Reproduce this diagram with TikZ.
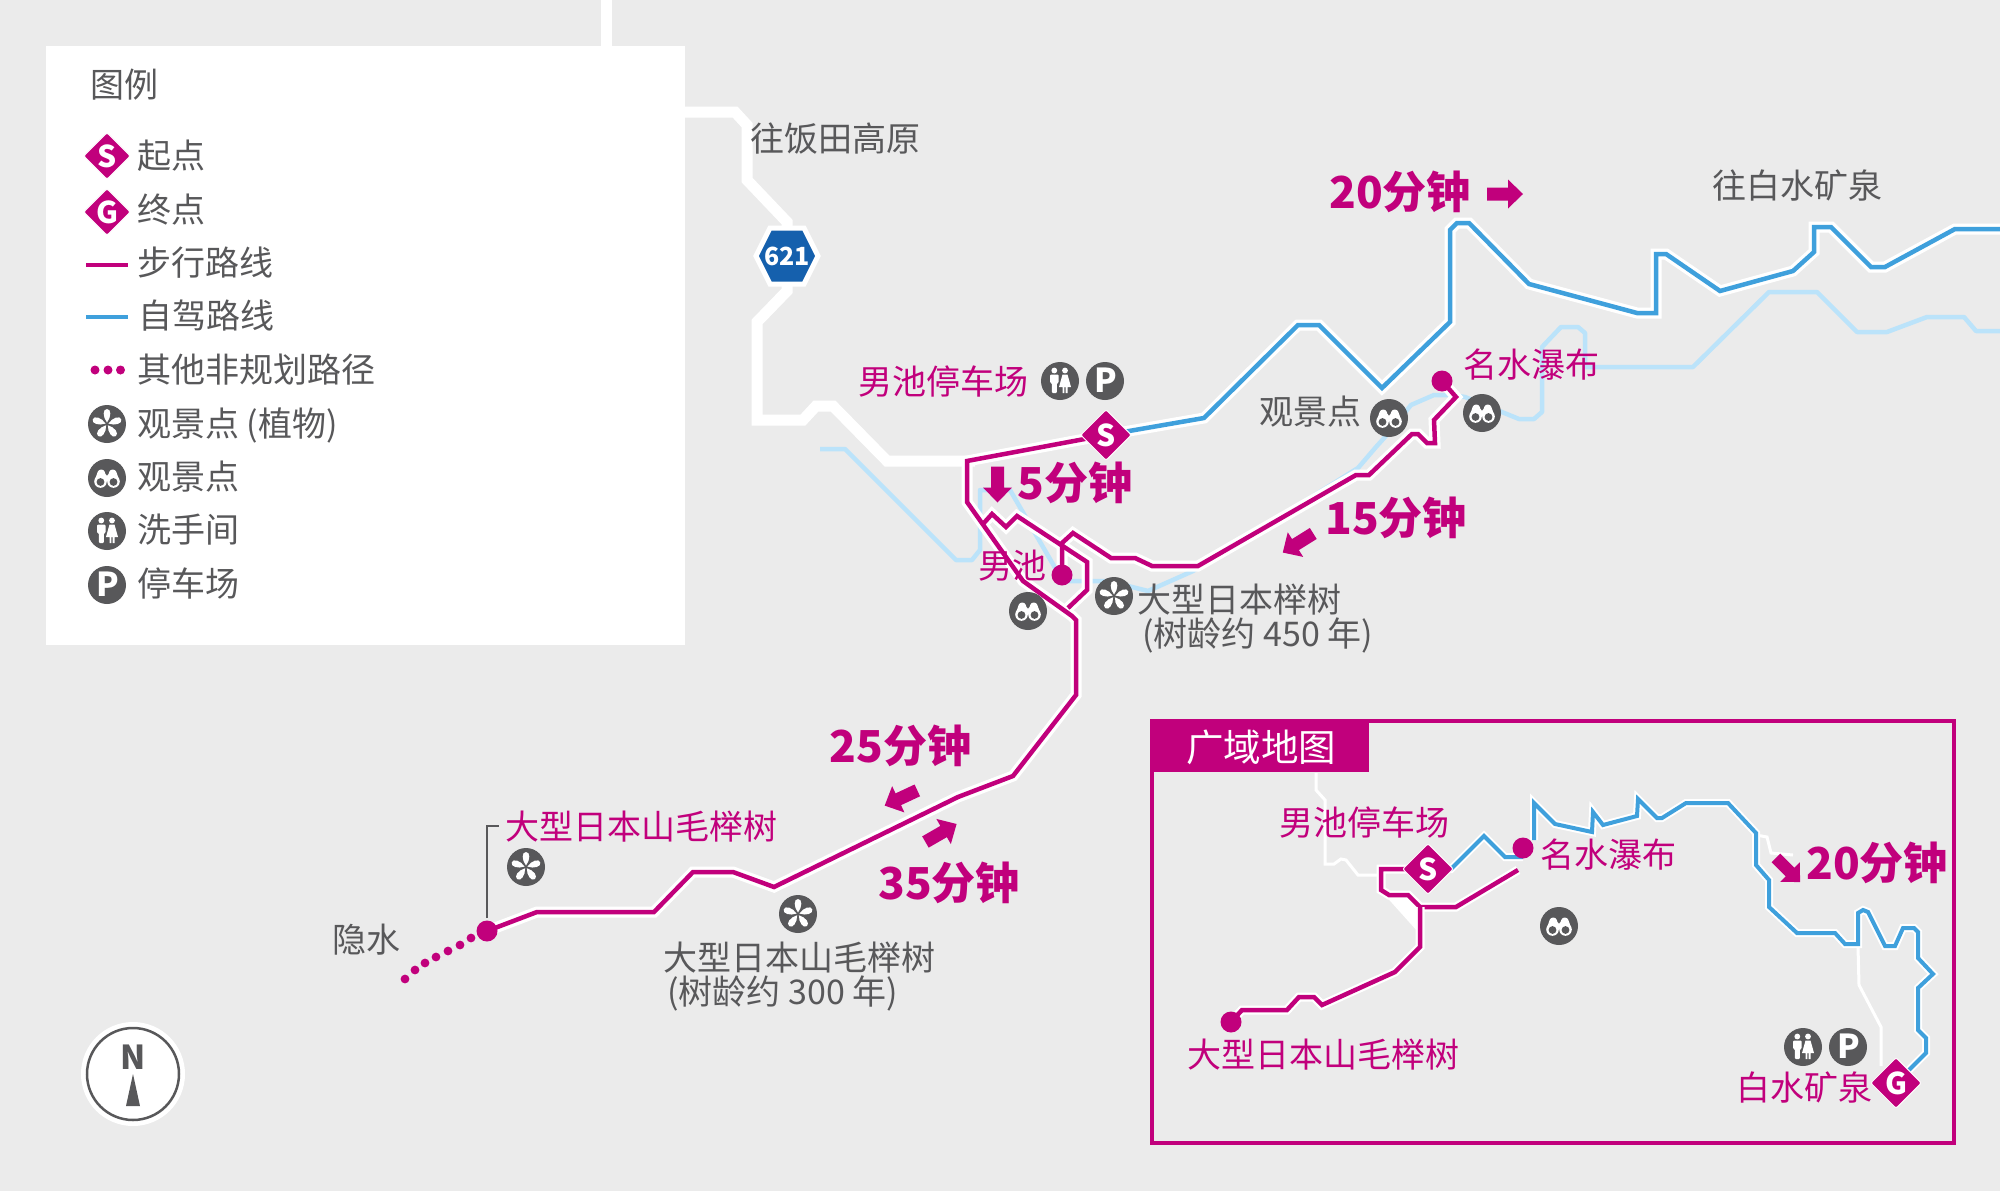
\documentclass[tikz,border=0pt]{standalone}
\usepackage{fontspec}
\setmainfont{Noto Sans CJK SC}
\usetikzlibrary{shapes.geometric}
\definecolor{bgc}{HTML}{EBEBEB}
\definecolor{mag}{HTML}{C1007C}
\definecolor{dgray}{HTML}{58585A}
\definecolor{drive}{HTML}{3FA0DC}
\definecolor{river}{HTML}{BBE3FA}
\definecolor{hexblue}{HTML}{1560AD}
\tikzset{
  x=1pt,y=-1pt,
  road/.style={draw=white,line width=11pt,line join=miter},
  thinroad/.style={draw=white,line width=3pt,line join=miter},
  riverline/.style={draw=river,line width=4.5pt,line join=round},
  walkline/.style={draw=mag,line width=4.5pt,line join=miter},
  walkhalo/.style={draw=white,line width=11pt,line join=miter},
  driveline/.style={draw=drive,line width=4.5pt,line join=miter,preaction={draw=white,line width=11pt}},
  walkthin/.style={draw=mag,line width=4.5pt,line join=miter,preaction={draw=white,line width=9pt}},
  drivethin/.style={draw=drive,line width=4pt,line join=miter,preaction={draw=white,line width=8pt}},
  gt/.style={anchor=base west,inner sep=0pt,text=dgray,yshift=-12.9pt,font=\fontsize{34}{34}\selectfont},
  mt/.style={gt,text=mag},
  tm/.style={anchor=base west,inner sep=0pt,text=mag,yshift=-16.5pt,font=\fontsize{44}{44}\selectfont\bfseries},
  spot/.style={circle,fill=mag,inner sep=0pt,minimum size=21pt},
  goalmark/.style={diamond,aspect=1,fill=mag,draw=white,line width=1pt,rounded corners=2pt,inner sep=0pt,minimum size=51pt,text=white,font=\fontsize{30}{30}\selectfont\bfseries},
  pics/flowericon/.style={code={
    \fill[dgray] (0,0) circle[radius=19];
    \foreach \a in {0,72,144,216,288}{\fill[white,rotate=\a] (0,-1.5) .. controls (-4.4,-7) and (-4.4,-15) .. (0,-15) .. controls (4.4,-15) and (4.4,-7) .. (0,-1.5) -- cycle;}
  }},
  pics/binocicon/.style={code={
    \fill[dgray] (0,0) circle[radius=19];
    \fill[white] (-6.5,3.5) circle[radius=6.3];
    \fill[white] (6.5,3.5) circle[radius=6.3];
    \fill[white,rounded corners=2.5pt] (-12.5,3) -- (-8.5,-8.5) -- (-3,-8.5) -- (-1,-2) -- (1,-2) -- (3,-8.5) -- (8.5,-8.5) -- (12.5,3) -- cycle;
    \fill[dgray] (-6.5,4) circle[radius=3.9];
    \fill[dgray] (6.5,4) circle[radius=3.9];
  }},
  pics/toileticon/.style={code={
    \fill[dgray] (0,0) circle[radius=19];
    \fill[white] (-5.7,-10.5) circle[radius=2.9];
    \fill[white] (5,-10.5) circle[radius=2.9];
    \fill[white,rounded corners=1pt] (-10,-6.5) -- (-1.5,-6.5) -- (-1.5,2) -- (-3.2,2) -- (-3.2,12) -- (-8.2,12) -- (-8.2,2) -- (-10,2) -- cycle;
    \fill[white] (2.5,-6.5) -- (7.5,-6.5) -- (11,6) -- (7.5,6) -- (7.5,12) -- (5.6,12) -- (5.6,6) -- (4.4,6) -- (4.4,12) -- (2.5,12) -- (2.5,6) -- (-1,6) -- cycle;
  }},
  pics/parkicon/.style={code={
    \fill[dgray] (0,0) circle[radius=19];
    \node[inner sep=0pt,text=white,font=\fontsize{33}{33}\selectfont\bfseries] at (0.5,-0.5) {P};
  }},
}
\newcommand{\blockarrow}[4][1]{%
  \fill[mag,shift={(#2,#3)},rotate=#4,scale=#1] (-18,-6.5) -- (3,-6.5) -- (3,-14.5) -- (18,0) -- (3,14.5) -- (3,6.5) -- (-18,6.5) -- cycle;}
\newcommand{\mainwalk}{(1106,435) -- (967,461) -- (967,502) -- (1023,581) -- (1072,616) -- (1076,620) -- (1076,695) -- (1013,776) -- (958,797) -- (774,887) -- (733,872) -- (693,872) -- (654,912) -- (537,912) -- (oldtree)}
\newcommand{\loopwalk}{(983,524) -- (992,514) -- (1006,527) -- (1017,516) -- (1087,562) -- (1087,590) -- (1068,608)}
\newcommand{\branchwalk}{(pond) -- (1062,543) -- (1073,533) -- (1111,558) -- (1135,558) -- (1152,566) -- (1198,566) -- (1356,475) -- (1369,475) -- (1412,434) -- (1418,434) -- (1427,443) -- (1435,443) -- (1434,420) -- (1456,397) -- (waterfall)}
\begin{document}
\begin{tikzpicture}
\useasboundingbox (0,0) rectangle (2000,1191);
\fill[bgc] (0,0) rectangle (2000,1191);

% roads
\coordinate (topend) at (606,0);
\coordinate (legtop) at (606,60);
\draw[road] (topend) -- (legtop);
\draw[road] (680,112) -- (735,112) -- (747,125) -- (747,180) -- (787,222) -- (787,291) -- (757,322) -- (757,420) -- (803,420) -- (816,406) -- (833,406) -- (887,461) -- (975,461);

% rivers
\draw[riverline] (820,449) -- (845,449) -- (956,560) -- (972,560) -- (980,550) -- (980,490) -- (1010,490) -- (1054,566) -- (1063,581) -- (1108,581) -- (1148,591) -- (1193,571) -- (1358,468) -- (1376,447) -- (1385,437) -- (1411,405) -- (1434,395) -- (1452,395) -- (1465,397) -- (1519,419) -- (1534,419) -- (1542,412) -- (1542,347) -- (1561,327) -- (1578,327) -- (1585,333) -- (1585,367) -- (1693,367) -- (1769,292) -- (1817,292) -- (1857,332) -- (1887,332) -- (1927,317) -- (1964,317) -- (1976,331) -- (2000,331);

% drive route
\draw[driveline] (1106,435) -- (1204,418) -- (1298,325) -- (1319,325) -- (1382,388) -- (1450,322) -- (1450,230) -- (1457,223) -- (1469,223) -- (1529,284) -- (1637,313) -- (1656,313) -- (1656,254) -- (1666,254) -- (1720,291) -- (1793,271) -- (1814,252) -- (1814,227) -- (1831,227) -- (1871,267) -- (1885,267) -- (1955,229) -- (2000,229);

% walking routes
\coordinate (waterfall) at (1442,381);
\coordinate (oldtree) at (487,931);
\coordinate (pond) at (1062,575);
\draw[walkhalo] \mainwalk;
\draw[walkhalo] \loopwalk;
\draw[walkhalo] \branchwalk;
\draw[walkline] \branchwalk;
\draw[walkline] \loopwalk;
\draw[walkline] \mainwalk;
\foreach \dx/\dy in {471/938,460/945,448/951,436/957,425/963,415/970,405/979}{\fill[mag] (\dx,\dy) circle[radius=4.4];}
\draw[dgray,line width=1.5pt] (487,918) -- (487,826) -- (499,826);

% route-number hexagon
\filldraw[fill=hexblue,draw=white,line width=5pt,line join=miter] (756,256) -- (770,228) -- (804,228) -- (818,256) -- (804,284) -- (770,284) -- cycle;
\node[inner sep=0pt,text=white,font=\fontsize{25}{25}\selectfont\bfseries] (r621t) at (787,256) {621};

% legend panel
\fill[white] (46,46) rectangle (685,645);
\node[gt] (legtitle) at (90,85) {图例};
\node[goalmark,minimum size=47pt] (ls) at (107,156) {S};
\node[goalmark,minimum size=47pt] (lg) at (107,212) {G};
\draw[mag,line width=4pt] (86,265) -- (128,265);
\draw[drive,line width=4pt] (86,316.5) -- (128,316.5);
\fill[mag] (95,370) circle[radius=4.5] (108,370) circle[radius=4.5] (120.5,370) circle[radius=4.5];
\pic at (107,424) {flowericon};
\pic at (107,478) {binocicon};
\pic at (107,531) {toileticon};
\pic at (107,585) {parkicon};
\node[gt] (l1) at (137,156) {起点};
\node[gt] (l2) at (137,210) {终点};
\node[gt] (l3) at (137,263) {步行路线};
\node[gt] (l4) at (138,316) {自驾路线};
\node[gt] (l5) at (137,370) {其他非规划路径};
\node[gt] (l6) at (137,424) {观景点 (植物)};
\node[gt] (l7) at (137,477) {观景点};
\node[gt] (l8) at (137,530) {洗手间};
\node[gt] (l9) at (137,584) {停车场};

% main map icons and labels
\node[gt] (t1) at (750,139) {往饭田高原};
\node[gt] (t2) at (1712,186) {往白水矿泉};
\node[mt] (t3) at (858,382) {男池停车场};
\pic at (1060,381) {toileticon};
\pic at (1105,381) {parkicon};
\node[goalmark] (startS) at (1106,435) {S};
\node[tm] (m20) at (1329,192) {20分钟};
\blockarrow{1505}{194}{0}
\node[tm] (m5) at (1017,483) {5分钟};
\blockarrow{997.5}{484.5}{-90}
\node[tm] (m15) at (1325,518) {15分钟};
\blockarrow{1298}{543}{212}
\node[gt] (t4) at (1259,412) {观景点};
\pic at (1389,418) {binocicon};
\pic at (1482,413) {binocicon};
\node[spot] (wf) at (waterfall) {};
\node[mt] (t5) at (1463,365) {名水瀑布};
\node[mt] (t6) at (978,566) {男池};
\node[spot] (pd) at (pond) {};
\pic at (1028,611) {binocicon};
\pic at (1114,596) {flowericon};
\node[gt] (t7) at (1137,600) {大型日本榉树};
\node[gt] (t8) at (1142,634) {(树龄约 450 年)};
\node[tm] (m25) at (829.5,746) {25分钟};
\blockarrow{901}{798}{205}
\blockarrow{941}{833}{30}
\node[tm] (m35) at (878,883) {35分钟};
\node[mt] (t9) at (505,827) {大型日本山毛榉树};
\pic at (526,867) {flowericon};
\node[spot] (ot) at (oldtree) {};
\node[gt] (t10) at (332,940) {隐水};
\pic at (798,914) {flowericon};
\node[gt] (t11) at (663,958) {大型日本山毛榉树};
\node[gt] (t12) at (667,992) {(树龄约 300 年)};

% compass
\fill[white] (133,1074) circle[radius=52];
\draw[dgray,line width=2.5pt] (133,1074) circle[radius=46];
\node[inner sep=0pt,text=dgray,font=\fontsize{33}{33}\selectfont\bfseries] (north) at (133,1057) {N};
\fill[dgray] (133,1074) -- (140,1106) -- (126,1106) -- cycle;

% inset
\draw[mag,line width=3.5pt] (1152,721) rectangle (1954,1143);
\fill[mag] (1152,721) rectangle (1369,772);
\node[anchor=base west,inner sep=0pt,text=white,yshift=-14pt,font=\fontsize{37.5}{37.5}\selectfont] (title) at (1186,747) {广域地图};

\draw[thinroad] (1316,773) -- (1316,790) -- (1325,800) -- (1325,864) -- (1334,864) -- (1341,859) -- (1346,860) -- (1358,875) -- (1381,875);
\fill[white] (1383,893) -- (1418,932) -- (1418,905) -- (1405,893) -- cycle;
\draw[thinroad] (1858,947) -- (1859,985) -- (1881,1027) -- (1881,1066);
\draw[thinroad] (1756,835) -- (1767,837) -- (1771,853) -- (1793,855);

\draw[drivethin] (1428,869) -- (1451,869) -- (1484,836) -- (1505,857) -- (1523,857);
\draw[drivethin] (1534,840) -- (1534,803) -- (1555,824) -- (1592,832) -- (1593,812) -- (1603,825) -- (1637,816) -- (1638,799) -- (1657,818) -- (1662,818) -- (1686,803) -- (1728,803) -- (1756,833) -- (1756,865) -- (1769,880) -- (1769,907) -- (1797,933) -- (1835,933) -- (1845,944) -- (1858,944) -- (1858,913) -- (1863,910) -- (1868,912) -- (1885,946) -- (1895,946) -- (1903,928) -- (1914,928) -- (1918,932) -- (1918,958) -- (1933,974) -- (1918,988) -- (1918,1030) -- (1926,1038) -- (1926,1053) -- (1896,1083);
\draw[walkthin] (1428,869) -- (1381,869) -- (1381,890) -- (1389,895) -- (1408,895) -- (1420,907) -- (1456,907) -- (1518,870);
\draw[walkthin] (1420,907) -- (1420,947) -- (1395,972) -- (1322,1005) -- (1314,997) -- (1299,997) -- (1287,1010) -- (1242,1010) -- (1231,1022);

\node[goalmark] (insS) at (1428,869) {S};
\node[goalmark] (insG) at (1896,1083) {G};
\node[spot] (insW) at (1523,848) {};
\node[spot] (insT) at (1231,1022) {};
\pic at (1559,926) {binocicon};
\pic at (1803,1047) {toileticon};
\pic at (1848,1047) {parkicon};
\node[mt] (i1) at (1279,823) {男池停车场};
\node[mt] (i2) at (1540,855) {名水瀑布};
\node[mt] (i3) at (1187,1055) {大型日本山毛榉树};
\node[mt] (i4) at (1736,1088) {白水矿泉};
\node[tm] (m20b) at (1806,863) {20分钟};
\blockarrow[0.95]{1788}{870}{-45}
\end{tikzpicture}
\end{document}
